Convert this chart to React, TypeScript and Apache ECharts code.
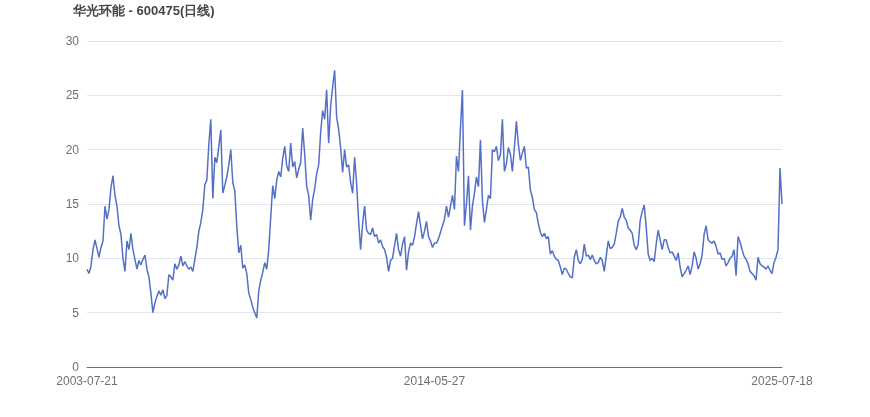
import React, { useEffect, useRef } from "react";
import * as echarts from "echarts";

const titleText = "华光环能 - 600475(日线)";
const tickLabels = ["2003-07-21", "2014-05-27", "2025-07-18"];

const seg2003 = [9.0, 8.6, 9.3, 10.8, 11.7, 10.9, 10.1, 11.0, 11.6, 14.8, 13.6, 14.5, 16.5, 17.6, 15.8, 14.8, 13.0, 12.2, 10.0, 8.8, 11.6, 10.8, 12.3, 10.8, 9.9, 9.0, 9.8, 9.4, 9.9, 10.3, 9.0, 8.3, 6.8, 5.0, 5.9, 6.5, 7.0, 6.6, 7.1, 6.3, 6.6, 8.5, 8.3, 8.0, 9.5, 9.0, 9.4, 10.2, 9.3, 9.7];
const seg2006 = [9.3, 9.0, 9.2, 8.8, 9.9, 11.0, 12.5, 13.3, 14.5, 16.8, 17.2, 20.5, 22.8, 15.5, 19.3, 18.8, 20.3, 21.8, 16.0, 16.7, 17.5, 18.6, 20.0, 17.0, 16.2, 13.0, 10.5, 11.2, 9.1, 9.4, 8.6, 6.8, 6.2, 5.5, 5.0, 4.5, 7.0, 8.0, 8.7, 9.6, 9.0, 10.8, 13.8, 16.7, 15.5, 17.2, 18.0];
const seg2009 = [17.5, 19.2, 20.3, 18.5, 18.0, 20.6, 18.4, 18.9, 17.4, 18.2, 18.8, 22.0, 19.6, 16.6, 15.8, 13.5, 15.4, 16.4, 17.8, 18.6, 21.6, 23.6, 22.8, 25.5, 20.6, 24.0, 25.8, 27.3, 23.0, 21.9, 20.2, 17.9, 20.0, 18.4, 18.6, 17.0, 16.0, 19.3, 16.9, 13.5, 10.8, 13.2, 14.8, 12.6, 12.3, 12.2, 12.8, 12.0];
const seg2012 = [12.2, 11.4, 11.7, 11.1, 10.8, 10.1, 8.8, 9.8, 10.0, 11.2, 12.3, 10.8, 10.2, 11.3, 12.0, 8.9, 10.6, 11.4, 11.2, 12.0, 13.2, 14.3, 13.0, 11.8, 12.5, 13.4, 12.0, 11.6, 11.0, 11.4, 11.4, 11.8, 12.4, 13.0, 13.6, 14.8, 13.8, 14.8, 15.8, 14.5, 19.4, 18.0, 22.0, 25.5, 13.0, 15.0, 17.6, 12.6];
const seg2015 = [14.8, 16.0, 17.5, 16.6, 20.9, 15.3, 13.3, 14.5, 15.8, 15.5, 20.0, 19.8, 20.3, 19.0, 19.5, 22.8, 18.0, 18.7, 20.2, 19.6, 18.0, 20.2, 22.6, 20.5, 19.0, 19.7, 20.3, 18.3, 18.4, 16.3, 15.6, 14.5, 14.2, 13.2, 12.4, 12.0, 12.3, 11.8, 12.0, 10.4, 10.7, 10.2, 9.9, 9.8, 9.2, 8.5, 9.1];
const seg2018 = [9.0, 8.6, 8.3, 8.2, 10.1, 10.8, 9.8, 9.5, 9.9, 11.3, 10.2, 10.3, 9.9, 10.3, 9.8, 9.5, 9.6, 10.1, 9.8, 8.8, 10.2, 11.6, 10.9, 11.0, 11.3, 12.3, 13.4, 13.8, 14.6, 13.8, 13.5, 12.8, 12.6, 12.3, 11.2, 10.8, 11.3, 13.5, 14.3, 14.9, 12.9, 10.4, 9.8, 10.0, 9.7, 11.3, 12.6, 11.7];
const seg2021 = [10.8, 11.7, 11.7, 11.0, 10.5, 10.6, 10.2, 9.8, 10.5, 9.2, 8.3, 8.6, 8.9, 9.3, 8.5, 9.3, 10.6, 10.0, 9.0, 9.5, 10.3, 12.2, 13.0, 11.7, 11.5, 11.4, 11.6, 11.1, 10.4, 10.5, 9.9, 10.0, 9.3, 9.6, 10.0, 10.2, 10.8, 8.4, 12.0, 11.5, 10.8, 10.2, 9.9, 9.5, 8.8, 8.6, 8.4];
const seg2024 = [8.0, 10.1, 9.5, 9.3, 9.2, 9.0, 9.3, 8.9, 8.6, 9.6, 10.1, 10.8, 18.3, 15.0];

const prices = [...seg2003, ...seg2006, ...seg2009, ...seg2012, ...seg2015, ...seg2018, ...seg2021, ...seg2024];

export default function App() {
  const ref = useRef<HTMLDivElement>(null);
  useEffect(() => {
    if (!ref.current) return;
    const chart = echarts.init(ref.current, undefined, { renderer: "svg" });
    const last = prices.length - 1;
    const mid = Math.floor(last / 2);
    const cats = prices.map((_, i) => String(i));
    chart.setOption({
      animation: false,
      title: {
        text: titleText,
        left: 68,
        top: -1,
        textStyle: { fontSize: 13, fontWeight: "bold", color: "#464646" },
      },
      grid: { left: 87, right: 88, top: 41, bottom: 50 },
      xAxis: {
        type: "category",
        data: cats,
        boundaryGap: false,
        axisTick: { show: false },
        axisLine: { lineStyle: { color: "#6E7079" } },
        axisLabel: {
          color: "#6E7079",
          fontSize: 12,
          interval: (i: number) => i === 0 || i === mid || i === last,
          formatter: (_v: string, i: number) =>
            i === 0 ? tickLabels[0] : i === mid ? tickLabels[1] : i === last ? tickLabels[2] : "",
        },
      },
      yAxis: {
        type: "value",
        min: 0,
        max: 30,
        interval: 5,
        axisLabel: { color: "#6E7079", fontSize: 12 },
        splitLine: { lineStyle: { color: "#E0E6F1" } },
      },
      series: [
        {
          type: "line",
          data: prices,
          showSymbol: false,
          lineStyle: { color: "#5470c6", width: 1.5 },
          itemStyle: { color: "#5470c6" },
        },
      ],
    });
    return () => chart.dispose();
  }, []);
  return (
    <div
      ref={ref}
      style={{ position: "fixed", left: 0, top: 0, width: 870, height: 417 }}
    />
  );
}
